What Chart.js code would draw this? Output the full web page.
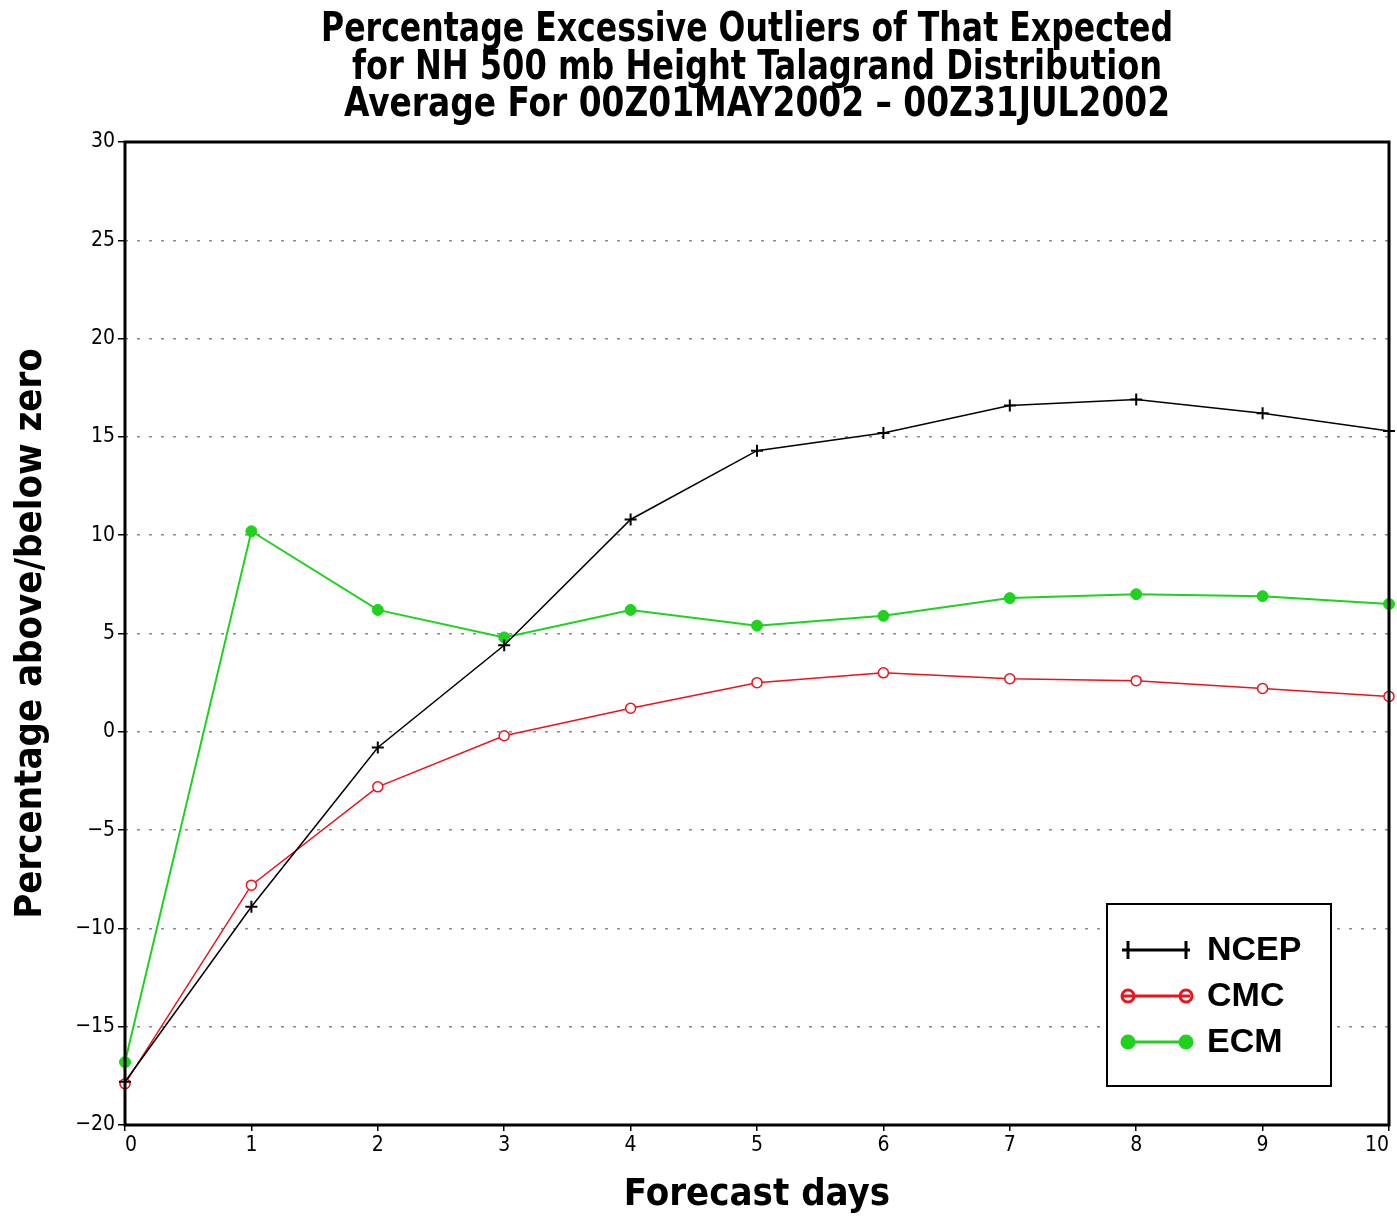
<!DOCTYPE html>
<html>
<head>
<meta charset="utf-8">
<script src="https://cdn.jsdelivr.net/npm/chart.js@4.4.1/dist/chart.umd.min.js"></script>
<style>
  html, body { margin: 0; padding: 0; background: #fff; }
  #wrap { width: 1397px; height: 1220px; position: relative; }
</style>
</head>
<body>
<div id="wrap"><canvas id="c" width="1397" height="1220"></canvas></div>
<script>
// ---- data ----
const titleLines = [
  "Percentage Excessive Outliers of That Expected",
  "for NH 500 mb Height Talagrand Distribution",
  "Average For 00Z01MAY2002 \u2013 00Z31JUL2002"
];
const days = [0, 1, 2, 3, 4, 5, 6, 7, 8, 9, 10];
const ncep = [-17.8, -8.9, -0.8, 4.4, 10.8, 14.3, 15.2, 16.6, 16.9, 16.2, 15.3];
const cmc  = [-17.9, -7.8, -2.8, -0.2, 1.2, 2.5, 3.0, 2.7, 2.6, 2.2, 1.8];
const ecm  = [-16.8, 10.2, 6.2, 4.8, 6.2, 5.4, 5.9, 6.8, 7.0, 6.9, 6.5];
const xTicks = [0, 1, 2, 3, 4, 5, 6, 7, 8, 9, 10];
const yTicks = [-20, -15, -10, -5, 0, 5, 10, 15, 20, 25, 30];
const xTitle = "Forecast days";
const yTitle = "Percentage above/below zero";

const GREEN = '#1ed21e';
const RED = '#e8141e';

function pts(vals) { return days.map((d, i) => ({ x: d, y: vals[i] })); }

const titlePlugin = {
  id: 'gradsTitle',
  afterDraw(chart) {
    const ctx = chart.ctx;
    const targets = [
      { cx: 747, cy: 28, w: 852 },
      { cx: 757, cy: 66, w: 810 },
      { cx: 757, cy: 103, w: 826 }
    ];
    ctx.save();
    ctx.fillStyle = '#000';
    ctx.font = 'bold 40px "DejaVu Sans Condensed", "DejaVu Sans"';
    ctx.textAlign = 'center';
    ctx.textBaseline = 'middle';
    titleLines.forEach((t, i) => {
      const m = ctx.measureText(t).width;
      const s = targets[i].w / m;
      ctx.save();
      ctx.translate(targets[i].cx, targets[i].cy + 3);
      ctx.scale(s, 1);
      ctx.fillText(t, 0, 0);
      ctx.restore();
    });
    ctx.restore();
  }
};

const framePlugin = {
  id: 'frame',
  afterDatasetsDraw(chart) {
    const a = chart.chartArea, ctx = chart.ctx;
    ctx.save();
    ctx.strokeStyle = '#000';
    ctx.lineWidth = 3;
    ctx.strokeRect(a.left, a.top, a.right - a.left, a.bottom - a.top);
    ctx.restore();
  }
};

const legendPlugin = {
  id: 'boxLegend',
  afterDraw(chart) {
    const ctx = chart.ctx;
    const bx = 1107, by = 904, bw = 224, bh = 182;
    ctx.save();
    ctx.fillStyle = '#fff';
    ctx.fillRect(bx, by, bw, bh);
    ctx.strokeStyle = '#000';
    ctx.lineWidth = 2;
    ctx.strokeRect(bx, by, bw, bh);
    const rows = [950, 996, 1042];
    chart.data.datasets.forEach((ds, i) => {
      const y = rows[i];
      const x1 = 1128, x2 = 1186;
      ctx.strokeStyle = ds.borderColor;
      ctx.lineWidth = 3;
      ctx.beginPath(); ctx.moveTo(x1 - 6, y); ctx.lineTo(x2 + 4, y); ctx.stroke();
      [x1, x2].forEach(x => {
        if (ds.pointStyle === 'cross') {
          ctx.lineWidth = 3;
          ctx.beginPath();
          ctx.moveTo(x, y - 9); ctx.lineTo(x, y + 9);
          ctx.stroke();
        } else {
          ctx.beginPath();
          ctx.arc(x, y, 6, 0, Math.PI * 2);
          if (ds.pointBackgroundColor !== '#fff') { ctx.fillStyle = ds.borderColor; ctx.fill(); }
          ctx.lineWidth = 3;
          ctx.stroke();
        }
      });
      ctx.fillStyle = '#000';
      ctx.font = 'bold 34px "Liberation Sans", Arial';
      ctx.textAlign = 'left';
      ctx.textBaseline = 'middle';
      ctx.fillText(ds.label, 1207, y + 1);
    });
    ctx.restore();
  }
};

const tickFont = { family: '"DejaVu Sans Condensed", "DejaVu Sans"', size: 21 };

new Chart(document.getElementById('c'), {
  type: 'line',
  data: {
    datasets: [
      { label: 'NCEP', data: pts(ncep), borderColor: '#000', backgroundColor: '#000',
        borderWidth: 1.5, pointStyle: 'cross', pointRadius: 6, pointBorderWidth: 2,
        pointBackgroundColor: '#000', pointBorderColor: '#000', clip: false },
      { label: 'CMC', data: pts(cmc), borderColor: RED, backgroundColor: RED,
        borderWidth: 1.5, pointStyle: 'circle', pointRadius: 5, pointBorderWidth: 1.5,
        pointBackgroundColor: '#fff', pointBorderColor: RED, clip: false },
      { label: 'ECM', data: pts(ecm), borderColor: GREEN, backgroundColor: GREEN,
        borderWidth: 2, pointStyle: 'circle', pointRadius: 5.5, pointBorderWidth: 1,
        pointBackgroundColor: GREEN, pointBorderColor: GREEN, clip: false }
    ]
  },
  options: {
    responsive: false,
    animation: false,
    layout: { padding: { top: 142, right: 7, left: 0, bottom: 0 } },
    plugins: { legend: { display: false }, title: { display: false }, tooltip: { enabled: false } },
    scales: {
      x: {
        type: 'linear', min: 0, max: 10,
        afterBuildTicks(s) { s.ticks = xTicks.map(v => ({ value: v })); },
        afterFit(s) { s.height = 95; s.paddingRight = 0; s.paddingLeft = 0; },
        grid: { display: true, drawOnChartArea: false, drawTicks: true, tickLength: 6, color: '#000', lineWidth: 1.5 },
        border: { display: false },
        ticks: { color: '#000', font: tickFont, padding: 2, maxRotation: 0, align: 'inner' },
        title: { display: true, text: xTitle, color: '#000',
          font: { family: '"DejaVu Sans Condensed", "DejaVu Sans"', size: 38, weight: 'bold' }, padding: { top: 0, bottom: 2 } }
      },
      y: {
        type: 'linear', min: -20, max: 30,
        afterBuildTicks(s) { s.ticks = yTicks.map(v => ({ value: v })); },
        afterFit(s) { s.width = 125; s.paddingTop = 0; s.paddingBottom = 0; },
        grid: {
          drawOnChartArea: true, drawTicks: true, tickLength: 7,
          color: (c) => (c.tick && (c.tick.value === -20 || c.tick.value === 30)) ? 'rgba(0,0,0,0)' : '#8a8a8a',
          lineWidth: 1.5,
          tickColor: '#000'
        },
        border: { display: false, dash: [3, 9] },
        ticks: { color: '#000', font: tickFont, padding: 3,
          callback: (v) => String(v).replace('-', '\u2212') },
        title: { display: true, text: yTitle, color: '#000',
          font: { family: '"DejaVu Sans Condensed", "DejaVu Sans"', size: 38, weight: 'bold' }, padding: { top: 8, bottom: 0 } }
      }
    }
  },
  plugins: [titlePlugin, framePlugin, legendPlugin]
});
</script>
</body>
</html>
